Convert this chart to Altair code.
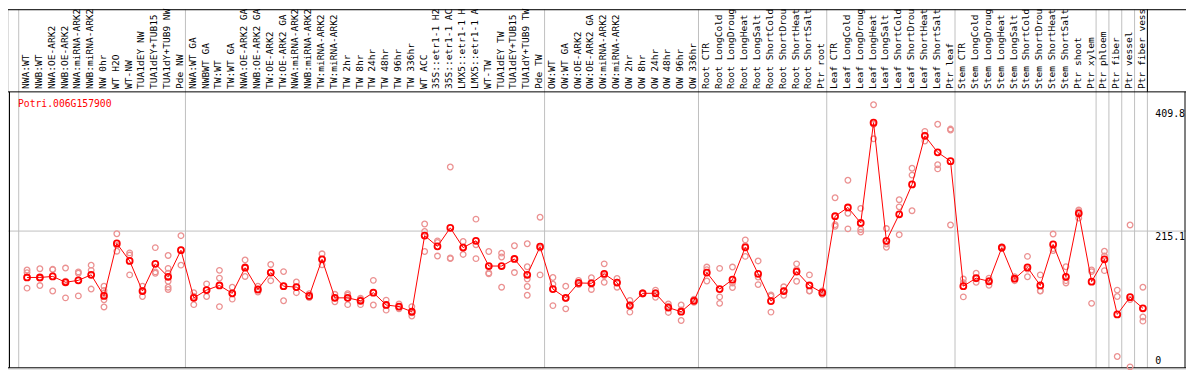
import altair as alt
import pandas as pd

GENE = "Potri.006G157900"

labels = [
    "NWA:WT", "NWB:WT", "NWA:OE-ARK2", "NWB:OE-ARK2", "NWA:miRNA-ARK2", "NWB:miRNA-ARK2",
    "NW 0hr", "WT H2O", "WT-NW", "TUA1dEY NW", "TUA1dEY+TUB15", "TUA1dY+TUB9 NW", "Pde NW",
    "NWA:WT GA", "NWBWT GA", "TW:WT", "TW:WT GA", "NWA:OE-ARK2 GA", "NWB:OE-ARK2 GA",
    "TW:OE-ARK2", "TW:OE-ARK2 GA", "NWA:miRNA-ARK2", "NWB:miRNA-ARK2", "TW:miRNA-ARK2",
    "TW:miRNA-ARK2", "TW 2hr", "TW 8hr", "TW 24hr", "TW 48hr", "TW 96hr", "TW 336hr",
    "WT ACC", "35S::etr1-1 H2", "35S::etr1-1 AC", "LMX5::etr1-1 H", "LMX5::etr1-1 A",
    "WT-TW", "TUA1dEY TW", "TUA1dEY+TUB15", "TUA1dY+TUB9 TW", "Pde TW",
    "OW:WT", "OW:WT GA", "OW:OE-ARK2", "OW:OE-ARK2 GA", "OW:miRNA-ARK2", "OW:miRNA-ARK2",
    "OW 2hr", "OW 8hr", "OW 24hr", "OW 48hr", "OW 96hr", "OW 336hr",
    "Root CTR", "Root LongCold", "Root LongDroug", "Root LongHeat", "Root LongSalt",
    "Root ShortCold", "Root ShortDrou", "Root ShortHeat", "Root ShortSalt", "Ptr root",
    "Leaf CTR", "Leaf LongCold", "Leaf LongDroug", "Leaf LongHeat", "Leaf LongSalt",
    "Leaf ShortCold", "Leaf ShortDrou", "Leaf ShortHeat", "Leaf ShortSalt", "Ptr leaf",
    "Stem CTR", "Stem LongCold", "Stem LongDroug", "Stem LongHeat", "Stem LongSalt",
    "Stem ShortCold", "Stem ShortDrou", "Stem ShortHeat", "Stem ShortSalt", "Ptr shoot",
    "Ptr xylem", "Ptr phloem", "Ptr fiber", "Ptr vessel", "Ptr fiber vess",
]

means = [
    141.6, 141.6, 143.2, 134.0, 137.0, 145.8, 112.4, 195.5, 167.8, 120.1, 163.2, 142.7, 184.8,
    109.3, 121.6, 128.9, 116.5, 157.0, 122.7, 149.3, 127.8, 126.3, 112.4, 170.4, 109.3,
    109.3, 104.7, 117.5, 98.0, 95.5, 87.3, 207.9, 190.9, 220.2, 188.9, 199.7,
    159.7, 159.7, 170.9, 145.8, 190.4,
    123.2, 109.3, 132.9, 132.4, 147.3, 133.5, 97.0, 116.5, 116.5, 93.9, 87.3, 104.7,
    149.3, 123.2, 138.1, 189.4, 147.3, 104.2, 120.1, 150.9, 128.9, 117.5,
    238.6, 252.5, 227.9, 386.9, 199.7, 241.7, 289.0, 366.0, 339.8, 325.9,
    127.8, 140.6, 135.5, 188.9, 139.6, 157.5, 128.9, 194.0, 142.7, 243.3,
    135.0, 170.4, 83.1, 110.4, 92.8,
]

reps = [
    [153.4, 149.3, 124.7], [155.5, 140.6, 128.8], [154.0, 154.5, 120.1], [156.5, 135.5, 109.3],
    [150.4, 148.3, 112.4], [161.1, 152.9, 123.2], [127.8, 121.1, 116.5, 106.2, 94.9],
    [210.9, 192.4, 183.2], [180.6, 177.1, 145.7], [127.8, 121.1, 111.4], [188.9, 150.4, 148.3],
    [176.5, 156.0, 148.3, 135.5, 126.2, 122.6], [207.8, 185.3, 161.1],
    [117.5, 111.9, 98.5], [131.4, 122.1, 111.4], [152.9, 140.6, 95.4], [126.2, 116.0, 107.3],
    [169.4, 158.6, 143.2], [127.8, 121.6, 118.5], [162.2, 149.4, 136.5], [150.9, 127.8, 104.7],
    [134.4, 126.2, 117.5], [116.0, 111.4, 109.8], [179.1, 170.4, 161.7], [114.9, 109.3, 103.1],
    [116.0, 113.4, 98.5], [108.8, 106.7, 98.5], [137.0, 117.5, 98.0], [105.7, 98.0, 89.8],
    [99.6, 94.9, 91.9], [95.4, 85.7, 80.6], [226.3, 214.5, 182.7], [199.6, 197.1, 175.5],
    [316.6, 172.4, 171.4], [198.6, 189.4, 178.1], [234.0, 193.5, 171.4],
    [182.7, 148.8, 147.3], [180.1, 174.0, 126.2], [191.9, 171.4, 149.4],
    [195.0, 158.6, 139.1, 127.3, 113.4], [237.1, 188.3, 145.7],
    [141.6, 130.9, 97.0], [127.8, 108.3, 91.9], [137.0, 131.4, 130.3], [141.1, 133.4, 122.6],
    [163.2, 144.7, 133.9], [140.1, 133.9, 126.2], [105.2, 99.0, 86.7], [117.5, 116.5, 115.5],
    [121.6, 117.5, 110.3], [99.6, 96.0, 86.2], [98.0, 90.3, 73.4], [107.3, 104.7, 102.1],
    [158.1, 154.0, 136.0], [156.0, 110.8, 100.6], [158.1, 132.9, 125.7], [201.2, 191.9, 175.0],
    [167.8, 142.2, 130.3], [113.9, 111.9, 86.7], [126.8, 120.1, 113.4], [163.2, 154.0, 135.5],
    [145.7, 120.6, 120.1], [120.1, 117.5, 114.9],
    [267.9, 225.3, 222.7], [295.6, 243.3, 218.6], [251.0, 217.6, 213.5], [415.2, 384.4, 361.3],
    [219.1, 194.5, 189.4], [264.8, 253.5, 209.4], [314.6, 303.8, 247.4], [373.1, 366.9, 357.7],
    [384.4, 320.2, 313.6], [376.7, 375.1, 224.8],
    [139.1, 133.4, 110.8], [148.3, 139.6, 133.9], [140.6, 136.5, 129.3], [190.4, 188.9, 187.3],
    [142.7, 139.6, 136.5], [175.0, 155.0, 142.7], [145.7, 120.6, 120.1], [210.4, 187.3, 184.2],
    [158.6, 136.5, 132.9], [248.4, 245.8, 235.6],
    [153.4, 150.9, 100.6], [183.2, 175.5, 152.4], [121.6, 111.4, 16.4], [224.8, 106.7, 0.0],
    [126.2, 79.0, 72.4],
]

group_starts = [0, 13, 41, 53, 63, 73, 84, 85, 86, 87, 88]
y_ticks = [0, 215.1, 409.8]
grid_y = [215.1]

W, H = 1186, 362
X_DOM = [-1.485, 90.36]
Y_DOM = [-3.08, 566.6]
FONT = "DejaVu Sans Mono"
GRID = "#c0c0c0"
RED = "#ff0000"
PINK = "#eb9191"
LABEL_BOTTOM = 80.2
PLOT_TOP = 83.2
PLOT_BOTTOM = 361

mean_df = pd.DataFrame({"i": list(range(len(labels))), "label": labels, "mean": means})
rep_df = pd.DataFrame(
    [(i, v) for i, vs in enumerate(reps) for v in vs], columns=["i", "value"]
)
grp_df = pd.DataFrame({"k": group_starts})
tick_df = pd.DataFrame({"v": y_ticks, "t": [str(t) for t in y_ticks]})
one = pd.DataFrame({"a": [0]})

xs = alt.Scale(domain=X_DOM, nice=False, zero=False)
ys = alt.Scale(domain=Y_DOM, nice=False, zero=False)

vgrid = alt.Chart(grp_df).transform_calculate(bx="datum.k - 0.65").mark_rule(
    color=GRID, strokeWidth=1
).encode(
    x=alt.X("bx:Q", scale=xs, axis=None),
    y=alt.value(0),
    y2=alt.value(PLOT_BOTTOM),
)

label_right = alt.Chart(grp_df).transform_filter(
    f"datum.k == {len(labels)}"
).transform_calculate(bx="datum.k - 0.65").mark_rule(color="black", strokeWidth=1).encode(
    x=alt.X("bx:Q", scale=xs, axis=None),
    y=alt.value(0),
    y2=alt.value(PLOT_TOP),
)

hgrid = alt.Chart(pd.DataFrame({"v": grid_y})).mark_rule(color=GRID, strokeWidth=1).encode(
    y=alt.Y("v:Q", scale=ys, axis=None),
    x=alt.value(0),
    x2=alt.value(W),
)

def hline(ypix, x1=0, x2=W):
    return alt.Chart(one).mark_rule(color="black", strokeWidth=1).encode(
        x=alt.value(x1), x2=alt.value(x2), y=alt.value(ypix)
    )

def vline(xpix, y1, y2):
    return alt.Chart(one).mark_rule(color="black", strokeWidth=1).encode(
        x=alt.value(xpix), y=alt.value(y1), y2=alt.value(y2)
    )

frame = [
    hline(0.5),
    hline(PLOT_TOP),
    hline(PLOT_BOTTOM),
    vline(1.5, PLOT_TOP, PLOT_BOTTOM),
    vline(W - 1, PLOT_TOP, PLOT_BOTTOM),
]

rep_pts = alt.Chart(rep_df).mark_point(
    shape="circle", filled=False, color=PINK, size=32, strokeWidth=1.3, opacity=1
).encode(
    x=alt.X("i:Q", scale=xs, axis=None),
    y=alt.Y("value:Q", scale=ys, axis=None),
)

line = alt.Chart(mean_df).mark_line(color=RED, strokeWidth=1).encode(
    x=alt.X("i:Q", scale=xs, axis=None),
    y=alt.Y("mean:Q", scale=ys, axis=None),
    order="i:Q",
)

mean_pts = alt.Chart(mean_df).mark_point(
    shape="circle", filled=False, color=RED, size=36, strokeWidth=1.8, opacity=1
).encode(
    x=alt.X("i:Q", scale=xs, axis=None),
    y=alt.Y("mean:Q", scale=ys, axis=None),
)

xlabels = alt.Chart(mean_df).mark_text(
    angle=270, align="left", baseline="middle", font=FONT, fontSize=9.6, color="black", dy=-1
).encode(
    x=alt.X("i:Q", scale=xs, axis=None),
    y=alt.value(LABEL_BOTTOM),
    text="label:N",
)

title = alt.Chart(pd.DataFrame({"g": [GENE]})).mark_text(
    align="left", baseline="middle", font=FONT, fontSize=9.8, color=RED
).encode(x=alt.value(10), y=alt.value(95), text="g:N")

ytick_top = alt.Chart(tick_df).transform_filter("datum.v > 0").mark_text(
    align="left", baseline="top", font=FONT, fontSize=10, color="black", dy=1
).encode(
    x=alt.value(1155),
    y=alt.Y("v:Q", scale=ys, axis=None),
    text="t:N",
)
ytick_zero = alt.Chart(tick_df).transform_filter("datum.v <= 0").mark_text(
    align="left", baseline="bottom", font=FONT, fontSize=10, color="black", dy=-1
).encode(
    x=alt.value(1155),
    y=alt.Y("v:Q", scale=ys, axis=None),
    text="t:N",
)

chart = alt.layer(
    vgrid, hgrid, *frame, label_right, rep_pts, line, mean_pts, xlabels, title,
    ytick_top, ytick_zero,
).properties(
    width=W, height=H, padding=0, autosize=alt.AutoSizeParams(type="none")
).configure_view(stroke=None).configure(background="white")

chart.save("out.html", embed_options={"renderer": "svg", "actions": False})
